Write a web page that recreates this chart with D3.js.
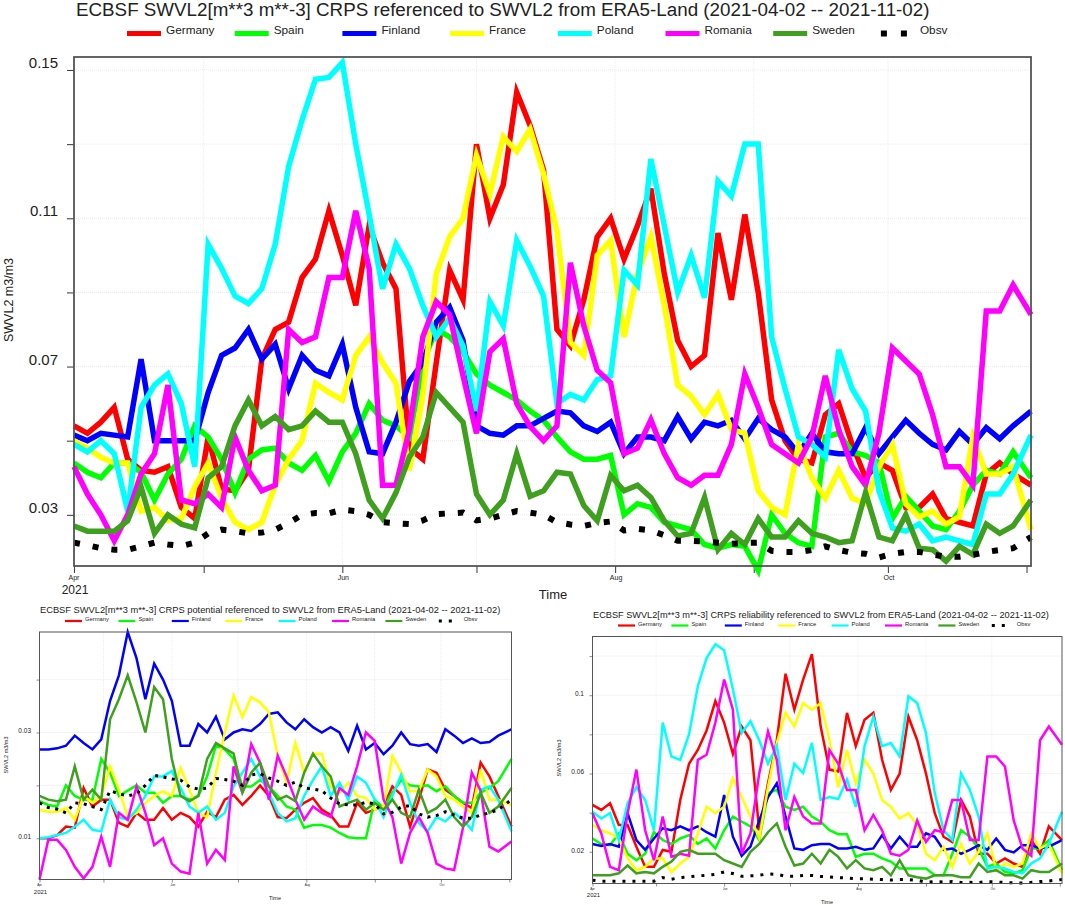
<!DOCTYPE html>
<html>
<head>
<meta charset="utf-8">
<title>ECBSF SWVL2 CRPS</title>
<script src="https://cdn.jsdelivr.net/npm/d3@7"></script>
<style>
html, body { margin: 0; padding: 0; background: #fff; }
svg { display: block; }
text { font-family: "Liberation Sans", Arial, sans-serif; fill: #222; }
</style>
</head>
<body>
<div id="chart"></div>
<script>
// all values are in 10^-3 m3/m3
var countries = ["Germany", "Spain", "Finland", "France", "Poland", "Romania", "Sweden", "Obsv"];
var colors = ["#ff0000", "#00ff00", "#0000ff", "#ffff00", "#00ffff", "#ff00ff", "#3f9f1f", "#000000"];
var monthLabels = ["Apr", "", "Jun", "", "Aug", "", "Oct", ""];

// main panel, one value every 3 days
var crpsGermany = [54,52,55,59,45,42,41.5,43,32,29,51,37,36.5,42,72,80,82,94,99,112,100,86.5,108,98,91,48,45,71,96,88,130,110,119,144,135,123,80,75.6,88,105,110,99,108,118,95,77,70,73,106,88,111,90,61,50,45,44,57,60,49,40,44,42,32,32,35.6,29,28,27,41,44,41,38];
var crpsSpain = [44,41.5,40,44,44,41.5,34,41,45,54,51,45,36,45,47.5,48,44,42,46,39,47,52,60,55.5,54,51,71,80,78,74,68,65,63,61,58,55.5,51,47,45,45,46,30,33,32,28,27,26,22,21,22,21.5,15,30,25,22.5,21.5,51,52,47,46,44,29,35,31,27,26,31,38,42,41,47,40];
var crpsFinland = [51.5,50,52,51.5,51,72,50,50,50,50,63,73,75,80,72,76,64,73,69,67.5,76,59,47,46.5,55,66,71,82,86,77,54,52,51.5,54,54,56,58,57.5,54,52.5,55,46.5,51,51,50,56.5,50.5,55,54,55.5,50.5,56,53,51,46.5,52,47,46.5,46.5,53.5,46.5,51,55.5,52,49,47.5,52.5,49,53.5,50.5,54,58];
var crpsFrance = [50,48,45.5,44,44,31,32,28.5,29,37.5,44,34.5,28,26,28,38,45,50,65.5,63,61,73,78,71,65.5,42,62,95,105,110,127,116.5,132,128,134,122,106.5,76.5,73,100,104,78,95,105,86.5,65,62,57,62.5,53,52,36.5,32,30,49,40,34.5,42,34.5,33,43,49,33,29.5,31,27.5,29.5,51,41,41,43,26];
var crpsPoland = [49,47,50,46.5,31,59,65,68,60,43,103,96.5,89,87,91,103,124,136.5,147.5,148,152,130,111,91,103,96.5,86.5,78,83,75.6,58,87.5,81,104,97,89,60,62.5,61,66.5,67.5,96,92,126,108,90,100,88.6,120,116,130,130,78,64,51,49,45.6,74.5,64,58,36.5,26.5,25.6,27.5,23,24,23,22,35.6,35.6,41,51.5];
var crpsRomania = [43,35.6,30,23,30,41,46.5,65,34,33,35.6,32,51,42,36.5,38,80,76.5,78,94,94,112,96.5,38,38,53,78,87.5,84,67.5,52,74,77.5,60,53.8,50,54,98,81,69,65.6,46.5,48,55.6,46.5,40,38,40.7,40.7,49,68,59,49,46.5,44,51,67.5,53,43,38,52,75,71.5,68,57,43,43,38,85,85,92,84];
var crpsSweden = [27,25.6,25.6,25.6,28.4,37.5,25,30,27.5,26.5,40,43,54,61,54,56.5,53,54,58,55,55,46.5,34,29,36,45.6,51,63,59,55,35.6,30,34,46.5,35,36.5,41.5,41,32.5,28.4,40.6,36.5,38,34.7,28.4,24.3,25,34.7,20.6,25,22,29,24,24,28.4,25,24,22.5,23,36,24,23,30,21,20.6,17.5,21.5,19.3,27.5,25,27,34];
var crpsObsv = [22.5,21.8,21,20.6,20.6,21.5,22.5,22,21.6,22.5,25,26,25.6,25,25.2,26,27.8,30,30.5,30.4,31.4,31,30,28,27.7,27.5,28.5,30.2,30.4,30.6,28.5,29,30,31,30.6,30,28,27.4,27,27.8,28.2,25.8,26.2,25.8,24.5,23,23,22.8,22.5,22.2,22.4,22.5,20.3,20,20,20.5,21.5,20.5,19.8,19.5,18.5,19.5,20,20,19.3,18.7,18.7,19.2,20,20.5,21,24];

// potential panel, one value every 4 days
var potGermany = [10,10,10.6,12.2,12,19.5,16,17.3,17.3,12.9,12.2,14.8,13.5,13.5,15.7,13.5,14.8,14,12.2,15,14,17.3,18.2,16.3,18,20,18,14,13.8,15.4,16.7,17.6,15.4,14.4,12.2,12.2,16.7,14.8,15.4,16,19.8,18.2,12.2,17.3,23,22.4,19.2,18,16.7,15.7,24.3,21.7,18,12.2];
var potSpain = [17,16.3,16,20,18,17.3,17.3,25,22.4,18,19,20,18.6,18.6,16.7,18,18,17.3,18,21.7,27.5,26.8,25,19.8,19.8,21,19.8,18,16,15.4,12,12.5,12.5,12,11,10.2,10,10,17.3,15.7,18.6,21,20,19.8,20,18.9,19.8,18,16.7,16.7,18.6,19.5,20.8,25];
var potFinland = [26.8,26.8,27,27.5,29.4,28,26.8,28.7,36,40.8,49,44,36.3,43,40,36,27.5,27.5,31.6,30,33,28.7,30,30.6,30.3,31.6,33.5,33.8,31.9,30.6,32.5,31,30,31,30,26.5,31.3,26.8,28,25.9,27.5,30,27.8,27.5,27.8,26.3,30.6,29.4,28,28.9,28,28.2,29.4,30.6];
var potFrance = [15.4,15,15,15.7,13.5,18,16.7,18,23.6,19.2,14,14.8,16.7,18,18.9,18,23.3,19.2,14.8,14,22.4,30,37,32.9,36.7,35.7,33.8,25.6,20.5,28,22.4,26,26,19.8,18.6,20.5,18,17.6,15.4,16,25.6,22.4,18.9,19,23,21.7,18,17.3,16,14.8,23,17.3,17.3,16.3];
var potPoland = [10,10.2,10.6,11,12.2,13.5,11.6,11.3,17.3,14,13.5,15.4,18,21.7,21.7,22.7,19.5,16,14.8,16,13.5,14.8,19.8,22.4,25,21.7,18.6,14.8,13.2,13.8,18,21,23.6,18,20.5,17.3,21.7,20.5,17.3,14,18,22,16.7,12.9,11.3,14,13.2,14.8,13.5,11.6,19.2,19.8,17.3,11.3];
var potRomania = [2.2,9.7,9.7,7.8,4.6,2.4,4.6,10.3,4.6,14.8,13.5,19.8,14.8,8.7,10,5.2,3.7,3.3,14.8,5.2,7.8,5.9,23.6,18.6,27.8,24.3,17.3,25.6,21.7,17.3,13.5,16,14.8,14,19.5,18.2,23.6,30,28.4,17.3,14,5.2,11,14,11,5.2,4.3,4,12,22.4,19,8.4,7.5,9.4];
var potSweden = [18,17.3,17,17.3,23.6,17.3,19.2,17.3,32.5,36.3,40.8,35.7,30,38.6,36.3,25,18,17,18,25,28,27,26,18.6,22.4,24.3,19.8,17.3,18,17,22.4,26,23.6,21.7,16,16.7,17.3,15.4,16.7,15.4,17.3,14.8,14,19.2,14.8,15.7,17.3,14,12.2,14,18.6,14.8,16,19.5];
var potObsv = [16.7,15.8,15.5,14.8,16.7,16.5,16,15.4,19,18.4,18,18.4,20,21.9,21.6,21.2,21,19.7,19.3,19.5,21.3,21.1,20.8,20,22,22.2,21.4,20.8,20,20.6,19.5,19.3,19,17.6,16.5,16.3,16.3,16.8,16.5,14.6,14.9,15.9,16.2,14.6,14,14.3,15,14.4,13.8,13.8,14.4,14.8,15.4,17.3];

// reliability panel, one value every 4 days
var relGermany = [44,41.4,44.8,33.7,33.7,22.6,12.3,12.3,20.9,20,46.5,65,72,82,97,86,70,84,77,31,55,77,111,92.6,108,121,84,62,61,91,74,87.5,91,67,51.6,60,89,77,60,39.7,27.7,25,46.5,38,19,19,14,16.6,14,12.3,26,19,33,26];
var relSpain = [26.8,24,23.4,29.4,19,15.7,19,30,26,24,26.8,28.5,24,26.8,21.7,31,38,35.4,33,26,50,51.6,43,41.4,43,38,35.4,31,29,29,17.4,19,19,16.6,15,11.5,11.5,11.5,11.5,8,8,19,31,27.7,21.7,12.3,14,9.7,9,10.6,21.7,21.7,26,10.6];
var relFinland = [24,23,24,22.6,39.7,26,21,26.8,32,31,33,31,33,30,27.7,49,27.7,18,22.6,36,48,55,38,21.7,21,23.4,24,24,21.7,21.7,22.6,21,21.7,28.5,21.7,27.7,22.6,22.6,29.4,27.7,21,21.7,19,21,23.4,21,26.8,21,19.7,23.4,23.4,21.7,22.6,26];
var relFrance = [33.7,31,29.4,26.8,16.6,10.6,12.3,16.6,16.6,9.7,14,17.4,29.4,43,39.7,43,57.6,48,38,26.8,53,75.6,91,84,96,92.6,96,77,53,72,55,67,60,46.5,43,37,39.7,33.7,19,15.7,22.6,12.3,24,14,20,29.4,10.6,14,12.3,14,29.4,21.7,24,9];
var relPoland = [40.5,37,39.7,26,44.8,53,46.5,31,86,68.7,67,80,104.6,119,126,123,103,80.7,86.7,77,65,74,46.5,65,60.2,75.6,46.5,48,47,57,43,74,89,74,75.6,68.7,99.5,96,80.7,50,31,26,60,51.6,38,11.5,12.3,11.5,9.7,9,14,16.6,24,40.5];
var relRomania = [39.7,29.4,12.3,10.6,39.7,62,31,15.7,38,17.4,19,18,67,69.6,86,108,92.6,19,29.4,60,81.5,67,31,48,38,34.5,34.5,72,65,51.6,51.6,31,38.8,31,19,18,21,36,25,31,30,46.5,46.5,26,26,68.7,68.7,63.6,36,21.7,18,77,84,74.7];
var relSweden = [8,8,8,9,13,9,9.7,9,12.3,15,20,21,19,19,19,15.7,14,12.3,20,24,30,34.5,22.6,13,14,19,14,21,17.4,11.5,15.7,11.5,10.6,12.3,8,15.7,8,7,6.3,8,8,8,7,7,14,9.7,10.6,8,8,6.3,10.6,9.7,9.7,14];
var relObsv = [5.5,5,5,5,5,5,5,5,6.8,6,6.8,7.2,7.7,8,8.5,9.7,8.9,7.5,7.7,8,8.7,8.5,7.5,7.5,7.9,7.9,7.4,7.2,6.8,6.7,6.2,6.2,6,5.8,5.6,5.8,5.8,5.5,4.4,4.8,4.6,4.8,4.3,4.4,4.3,4.8,4.6,4.3,4.1,4.1,4.4,4.8,5.1,5.8];

var startDate = new Date(2021, 3, 2);
var endDate = new Date(2021, 10, 2);
var monthTicks = d3.timeMonth.range(new Date(2021, 4, 1), new Date(2021, 10, 2));

var svg = d3.select("#chart").append("svg").attr("width", 1065).attr("height", 905);

function drawPanel(p) {
	var g = svg.append("g");

	var x = d3.scaleTime().domain([startDate, endDate]).range([p.left, p.right]);
	var y = d3.scaleLinear().domain(p.domain).range([p.bottom, p.top]);

	// grid
	g.selectAll(".gy").data(p.yTicks).enter().append("line")
		.attr("x1", p.left).attr("x2", p.right)
		.attr("y1", function(d) { return y(d); }).attr("y2", function(d) { return y(d); })
		.attr("stroke", "#e4e4e4").attr("stroke-width", 0.8).attr("stroke-dasharray", "1,1");
	g.selectAll(".gx").data(monthTicks.slice(0, 6)).enter().append("line")
		.attr("y1", p.top).attr("y2", p.bottom)
		.attr("x1", function(d) { return x(d); }).attr("x2", function(d) { return x(d); })
		.attr("stroke", "#e8e8e8").attr("stroke-width", 0.8).attr("stroke-dasharray", "1,1");

	// axes
	var yAxis = d3.axisLeft(y).tickValues(p.yTicks).tickSize(p.tick).tickFormat("");
	var yG = g.append("g").attr("transform", "translate(" + p.left + ",0)").call(yAxis);
	var xAxis = d3.axisBottom(x).tickValues([startDate].concat(monthTicks)).tickSize(p.tick).tickFormat("");
	var xG = g.append("g").attr("transform", "translate(0," + p.bottom + ")").call(xAxis);
	yG.select(".domain").remove();
	xG.select(".domain").remove();
	yG.selectAll("line").attr("stroke", "#444").attr("stroke-width", p.frame * 0.6);
	xG.selectAll("line").attr("stroke", "#444").attr("stroke-width", p.frame * 0.6);

	// series
	var line = d3.line()
		.x(function(d) { return x(d.date); })
		.y(function(d) { return y(d.value); });

	p.series.forEach(function(values, k) {
		var rows = values.map(function(v, i) {
			var date = i == values.length - 1 ? endDate : d3.timeDay.offset(startDate, i * p.step);
			return { date: date, value: v };
		});
		g.append("path").datum(rows)
			.attr("d", line)
			.attr("fill", "none")
			.attr("stroke", colors[k])
			.attr("stroke-width", k == 7 ? p.dotWidth : p.lineWidth)
			.attr("stroke-linejoin", "miter")
			.attr("stroke-dasharray", k == 7 ? p.dots : null);
	});

	// frame
	g.append("rect")
		.attr("x", p.left).attr("y", p.top)
		.attr("width", p.right - p.left).attr("height", p.bottom - p.top)
		.attr("fill", "none").attr("stroke", "#555").attr("stroke-width", p.frame);

	// tick labels
	g.selectAll(".yl").data(p.yLabels).enter().append("text")
		.attr("x", p.yLabelX)
		.attr("y", function(d) { return y(d.v) - p.yLabelUp; })
		.attr("text-anchor", "end")
		.attr("dominant-baseline", "middle")
		.attr("font-size", p.yLabelSize)
		.text(function(d) { return d.t; });

	var labelDates = [startDate].concat(monthTicks);
	g.selectAll(".xl").data(monthLabels).enter().append("text")
		.attr("x", function(d, i) { return x(labelDates[i]) + (i == 0 ? 0 : 1); })
		.attr("y", p.monthY)
		.attr("text-anchor", "middle")
		.attr("font-size", p.monthSize)
		.text(function(d) { return d; });

	g.append("text").attr("x", p.left + 1).attr("y", p.yearY)
		.attr("text-anchor", "middle").attr("font-size", p.yearSize).text("2021");
	g.append("text").attr("x", p.timeX).attr("y", p.timeY)
		.attr("text-anchor", "middle").attr("font-size", p.timeSize).text("Time");
	g.append("text")
		.attr("transform", "translate(" + p.yTitleX + "," + p.yTitleY + ") rotate(-90)")
		.attr("text-anchor", "middle").attr("font-size", p.yTitleSize).text("SWVL2 m3/m3");

	// title
	g.append("text").attr("x", p.titleX).attr("y", p.titleY)
		.attr("font-size", p.titleSize).attr("fill", "#111").text(p.title);

	// legend
	var lx = d3.scalePoint().domain(countries).range([p.legendX, p.legendX + 7 * p.legendGap]);
	countries.forEach(function(c, k) {
		var x0 = lx(c);
		if (k == 7) {
			g.append("line").attr("x1", x0).attr("x2", x0 + p.legendLine)
				.attr("y1", p.legendY).attr("y2", p.legendY)
				.attr("stroke", "#000").attr("stroke-width", p.dotWidth)
				.attr("stroke-dasharray", p.legendDots);
		} else {
			g.append("line").attr("x1", x0).attr("x2", x0 + p.legendLine)
				.attr("y1", p.legendY).attr("y2", p.legendY)
				.attr("stroke", colors[k]).attr("stroke-width", p.legendWidth);
		}
		g.append("text")
			.attr("x", x0 + p.legendLine + p.legendPad + (k == 7 ? p.obsvPad : 0))
			.attr("y", p.legendY - p.legendUp)
			.attr("font-size", p.legendSize).attr("fill", "#333").text(c);
	});
}

drawPanel({
	title: "ECBSF SWVL2[m**3 m**-3] CRPS referenced to SWVL2 from ERA5-Land (2021-04-02 -- 2021-11-02)",
	series: [crpsGermany, crpsSpain, crpsFinland, crpsFrance, crpsPoland, crpsRomania, crpsSweden, crpsObsv],
	step: 3, left: 74, right: 1031, top: 57, bottom: 566,
	domain: [16.2, 153.5],
	yTicks: [30, 50, 70, 90, 110, 130, 150],
	yLabels: [{ v: 30, t: "0.03" }, { v: 70, t: "0.07" }, { v: 110, t: "0.11" }, { v: 150, t: "0.15" }],
	yLabelX: 58, yLabelUp: 6, yLabelSize: 15, tick: 7, frame: 1.8,
	lineWidth: 5.5, dotWidth: 6, dots: "6,13",
	monthY: 580, monthSize: 7, yearY: 594, yearSize: 12,
	timeX: 553, timeY: 599, timeSize: 13,
	yTitleX: 13, yTitleY: 300, yTitleSize: 12.5,
	titleX: 76, titleY: 15.5, titleSize: 18.8,
	legendX: 127, legendGap: 107.7, legendY: 33.5, legendLine: 34, legendWidth: 5, legendPad: 5,
	legendDots: "6,14", obsvPad: 0, legendUp: 0, legendSize: 11.8
});

drawPanel({
	title: "ECBSF SWVL2[m**3 m**-3] CRPS potential referenced to SWVL2 from ERA5-Land (2021-04-02 -- 2021-11-02)",
	series: [potGermany, potSpain, potFinland, potFrance, potPoland, potRomania, potSweden, potObsv],
	step: 4, left: 39.5, right: 511.5, top: 632, bottom: 879.5,
	domain: [2.2, 49],
	yTicks: [10, 20, 30, 40],
	yLabels: [{ v: 10, t: "0.01" }, { v: 30, t: "0.03" }],
	yLabelX: 31, yLabelUp: 1, yLabelSize: 6.5, tick: 3, frame: 1,
	lineWidth: 2.5, dotWidth: 3, dots: "3,5.5",
	monthY: 886, monthSize: 3, yearY: 894, yearSize: 6,
	timeX: 275, timeY: 900, timeSize: 5.5,
	yTitleX: 8, yTitleY: 755, yTitleSize: 5.5,
	titleX: 40, titleY: 613, titleSize: 9.3,
	legendX: 65, legendGap: 53.4, legendY: 621, legendLine: 17, legendWidth: 2.2, legendPad: 3,
	legendDots: "3,7", obsvPad: 5, legendUp: 0, legendSize: 5.8
});

drawPanel({
	title: "ECBSF SWVL2[m**3 m**-3] CRPS reliability referenced to SWVL2 from ERA5-Land (2021-04-02 -- 2021-11-02)",
	series: [relGermany, relSpain, relFinland, relFrance, relPoland, relRomania, relSweden, relObsv],
	step: 4, left: 592.5, right: 1062, top: 636.5, bottom: 883.5,
	domain: [3.8, 130],
	yTicks: [20, 40, 60, 80, 100, 120],
	yLabels: [{ v: 20, t: "0.02" }, { v: 60, t: "0.06" }, { v: 100, t: "0.1" }],
	yLabelX: 584, yLabelUp: 1, yLabelSize: 6.5, tick: 3, frame: 1,
	lineWidth: 2.5, dotWidth: 3, dots: "3,7",
	monthY: 890, monthSize: 3, yearY: 897, yearSize: 6,
	timeX: 827, timeY: 904, timeSize: 5.5,
	yTitleX: 561, yTitleY: 758, yTitleSize: 5.5,
	titleX: 593, titleY: 618, titleSize: 9.2,
	legendX: 618, legendGap: 53.4, legendY: 625.5, legendLine: 17, legendWidth: 2.2, legendPad: 3,
	legendDots: "3,7", obsvPad: 5, legendUp: 0, legendSize: 5.8
});
</script>
</body>
</html>
